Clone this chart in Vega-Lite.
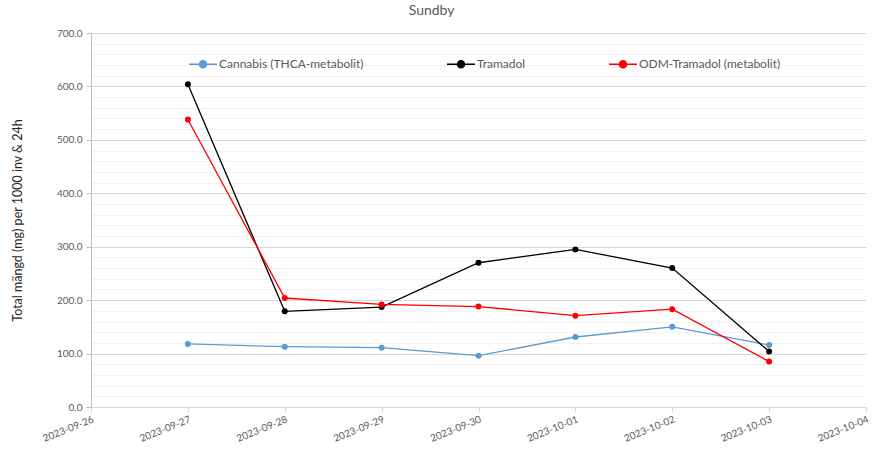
{
  "$schema": "https://vega.github.io/schema/vega-lite/v6.json",
  "width": 775,
  "height": 374,
  "autosize": "none",
  "padding": {"left": 91, "top": 33, "right": 8, "bottom": 45},
  "background": "white",
  "config": {"font": "Lato", "view": {"stroke": null}},
  "title": {"text": "Sundby", "fontSize": 14, "fontWeight": "normal", "color": "#595959", "anchor": "middle", "frame": "bounds", "offset": 10, "dx": -9},
  "data": {"values": [
    {"date": "2023-09-27", "series": "Cannabis (THCA-metabolit)", "value": 118},
    {"date": "2023-09-28", "series": "Cannabis (THCA-metabolit)", "value": 113},
    {"date": "2023-09-29", "series": "Cannabis (THCA-metabolit)", "value": 111},
    {"date": "2023-09-30", "series": "Cannabis (THCA-metabolit)", "value": 96},
    {"date": "2023-10-01", "series": "Cannabis (THCA-metabolit)", "value": 131},
    {"date": "2023-10-02", "series": "Cannabis (THCA-metabolit)", "value": 150},
    {"date": "2023-10-03", "series": "Cannabis (THCA-metabolit)", "value": 116},
    {"date": "2023-09-27", "series": "Tramadol", "value": 604},
    {"date": "2023-09-28", "series": "Tramadol", "value": 179},
    {"date": "2023-09-29", "series": "Tramadol", "value": 187},
    {"date": "2023-09-30", "series": "Tramadol", "value": 270},
    {"date": "2023-10-01", "series": "Tramadol", "value": 295},
    {"date": "2023-10-02", "series": "Tramadol", "value": 260},
    {"date": "2023-10-03", "series": "Tramadol", "value": 104},
    {"date": "2023-09-27", "series": "ODM-Tramadol (metabolit)", "value": 538},
    {"date": "2023-09-28", "series": "ODM-Tramadol (metabolit)", "value": 204},
    {"date": "2023-09-29", "series": "ODM-Tramadol (metabolit)", "value": 192},
    {"date": "2023-09-30", "series": "ODM-Tramadol (metabolit)", "value": 188},
    {"date": "2023-10-01", "series": "ODM-Tramadol (metabolit)", "value": 171},
    {"date": "2023-10-02", "series": "ODM-Tramadol (metabolit)", "value": 183},
    {"date": "2023-10-03", "series": "ODM-Tramadol (metabolit)", "value": 85}
  ]},
  "encoding": {
    "x": {
      "field": "date", "type": "temporal",
      "scale": {"type": "utc", "domain": [{"year": 2023, "month": 9, "date": 26, "utc": true}, {"year": 2023, "month": 10, "date": 4, "utc": true}]},
      "axis": {"title": null, "format": "%Y-%m-%d", "tickCount": {"interval": "day", "step": 1}, "labelAngle": -22, "labelFontSize": 10, "labelColor": "#595959", "grid": false, "domainColor": "#d9d9d9", "tickColor": "#d9d9d9", "tickSize": 5, "labelPadding": 2}
    },
    "color": {
      "field": "series", "type": "nominal",
      "scale": {"domain": ["Cannabis (THCA-metabolit)", "Tramadol", "ODM-Tramadol (metabolit)"], "range": ["#5B9BD5", "#000000", "#FF0000"]},
      "legend": {
        "title": null, "orient": "none", "legendX": 97, "legendY": 16, "direction": "horizontal", "columns": 3, "columnPadding": 80,
        "symbolType": "M-1,0H-0.25M0.25,0H1M-0.25,0A0.25,0.25,0,1,1,0.25,0A0.25,0.25,0,1,1,-0.25,0Z",
        "symbolSize": 784, "symbolStrokeWidth": 1.5, "labelFontSize": 12, "labelColor": "#595959", "labelOffset": 1, "padding": 0, "labelLimit": 300,
        "encode": {"symbols": {"update": {"fill": {"scale": "color", "field": "value"}, "stroke": {"scale": "color", "field": "value"}}}}
      }
    }
  },
  "layer": [
    {
      "mark": {"type": "line", "strokeWidth": 1.3},
      "encoding": {
        "y": {"field": "value", "type": "quantitative", "scale": {"domain": [0, 700]},
          "axis": {"orient": "left", "values": [20,40,60,80,120,140,160,180,220,240,260,280,320,340,360,380,420,440,460,480,520,540,560,580,620,640,660,680], "labels": false, "ticks": false, "domain": false, "title": null, "grid": true, "gridColor": "#f2f2f2", "gridWidth": 1}}
      }
    },
    {
      "mark": {"type": "point", "filled": true, "opacity": 1, "size": 36},
      "encoding": {
        "y": {"field": "value", "type": "quantitative", "scale": {"domain": [0, 700]},
          "axis": {"orient": "left", "values": [0,100,200,300,400,500,600,700], "format": ".1f", "labelFontSize": 10, "labelColor": "#595959", "grid": true, "gridColor": "#d9d9d9", "domainColor": "#bfbfbf", "tickColor": "#bfbfbf", "tickSize": 5, "labelPadding": 4,
            "title": "Total mängd (mg) per 1000 inv & 24h", "titleFontSize": 12.5, "titleFontWeight": "normal", "titleColor": "#262626", "titlePadding": 32}}
      }
    }
  ],
  "resolve": {"axis": {"y": "independent"}}
}
